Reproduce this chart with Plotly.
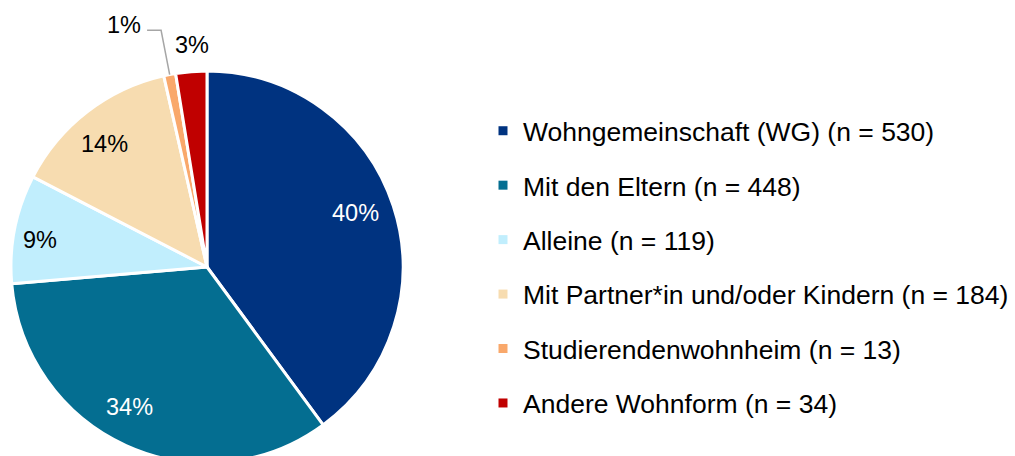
import math
import plotly.graph_objects as go

labels = ["Wohngemeinschaft (WG)", "Mit den Eltern", "Alleine",
          "Mit Partner*in und/oder Kindern", "Studierendenwohnheim", "Andere Wohnform"]
counts = [530, 448, 119, 184, 13, 34]
colors = ["#003380", "#046E91", "#C1EEFD", "#F7DCB0", "#F9A86B", "#C00000"]
label_colors = ["#FFFFFF", "#FFFFFF", "#000000", "#000000", "#000000", "#000000"]

W, H = 1015, 470
CX, CY, R = 207, 267, 196  # pie centre/radius in pixels (layout only)
FONT = "Liberation Sans, Arial, sans-serif"

total = sum(counts)
fracs = [c / total for c in counts]

fig = go.Figure()
fig.add_trace(go.Pie(
    labels=labels, values=counts, sort=False, direction="clockwise", rotation=0,
    marker=dict(colors=colors, line=dict(color="#FFFFFF", width=3)),
    textinfo="none", hoverinfo="label+value+percent", showlegend=False,
    domain=dict(x=[(CX - R) / W, (CX + R) / W], y=[(H - CY - R) / H, (H - CY + R) / H]),
))

# legend entries (small square markers)
for lab, c, col in zip(labels, counts, colors):
    fig.add_trace(go.Scatter(
        x=[None], y=[None], mode="markers", name=f"{lab} (n = {c})",
        marker=dict(symbol="square", size=9, color=col), legendgroup=lab,
    ))

def px2paper(x, y):
    return x / W, 1 - y / H

annotations, shapes = [], []
# label placement (style): radius factor and angular nudge in degrees
radial = [0.806, 0.813, 0.862, 0.818, None, 1.135]
nudge = [-2.0, 4.5, -2.0, -2.0, 0.0, 0.7]
cum = 0.0
for i, f in enumerate(fracs):
    mid = (cum + f / 2) * 2 * math.pi
    cum += f
    pct = f"{round(f * 100):.0f}%"
    if radial[i] is not None:
        a = mid + math.radians(nudge[i])
        dx, dy = math.sin(a), -math.cos(a)
        x, y = px2paper(CX + dx * R * radial[i], CY + dy * R * radial[i])
        annotations.append(dict(x=x, y=y, xref="paper", yref="paper", text=pct,
                                xanchor="center", yanchor="middle",
                                showarrow=False, font=dict(size=23.5, color=label_colors[i], family=FONT)))
    else:
        # outside label with leader line
        dx, dy = math.sin(mid), -math.cos(mid)
        ex, ey = CX + dx * R * 1.0, CY + dy * R * 1.0
        kx, ky = CX + dx * R * 1.23, CY + dy * R * 1.23
        hx, hy = kx - 14, ky
        p = [px2paper(*pt) for pt in [(ex, ey), (kx, ky), (hx, hy)]]
        shapes.append(dict(type="path", xref="paper", yref="paper",
                           path=f"M{p[0][0]},{p[0][1]} L{p[1][0]},{p[1][1]} L{p[2][0]},{p[2][1]}",
                           line=dict(color="#A6A6A6", width=1.5)))
        x, y = px2paper(hx - 23, hy - 5)
        annotations.append(dict(x=x, y=y, xref="paper", yref="paper", text=pct,
                                xanchor="center", yanchor="middle",
                                showarrow=False, font=dict(size=23.5, color="#000000", family=FONT)))

fig.update_layout(
    width=W, height=H, margin=dict(l=0, r=0, t=0, b=0),
    paper_bgcolor="#FFFFFF", plot_bgcolor="#FFFFFF",
    xaxis=dict(visible=False), yaxis=dict(visible=False),
    font=dict(family=FONT, size=26.5, color="#000000"),
    legend=dict(x=483 / W, y=1 - 107 / H, xanchor="left", yanchor="top",
                tracegroupgap=17, font=dict(size=26.5, color="#000000", family=FONT),
                bgcolor="rgba(0,0,0,0)", itemwidth=30),
    annotations=annotations, shapes=shapes,
)

fig.write_html("out.html", config={"displayModeBar": False},
               post_script="document.body.style.margin='0';document.body.style.overflow='hidden';")
